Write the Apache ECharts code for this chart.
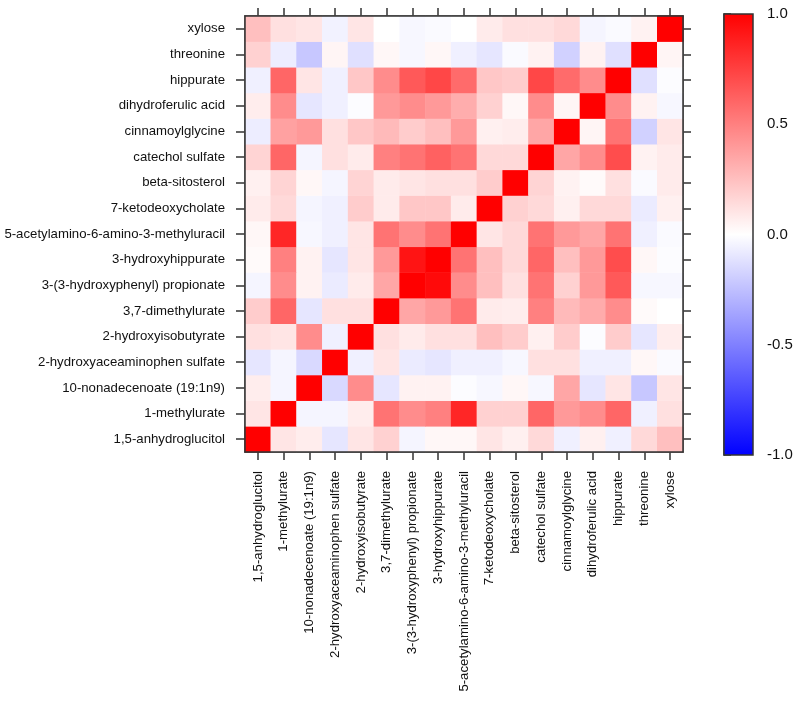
<!DOCTYPE html>
<html>
<head>
<meta charset="utf-8">
<script src="https://cdn.jsdelivr.net/npm/echarts@6/dist/echarts.min.js"></script>
<style>html,body{margin:0;padding:0;background:#fff}#c{width:796px;height:702px}</style>
</head>
<body>
<div id="c"></div>
<script>
// Categories, bottom-to-top on y and left-to-right on x
var categories = [
  "1,5-anhydroglucitol",
  "1-methylurate",
  "10-nonadecenoate (19:1n9)",
  "2-hydroxyaceaminophen sulfate",
  "2-hydroxyisobutyrate",
  "3,7-dimethylurate",
  "3-(3-hydroxyphenyl) propionate",
  "3-hydroxyhippurate",
  "5-acetylamino-6-amino-3-methyluracil",
  "7-ketodeoxycholate",
  "beta-sitosterol",
  "catechol sulfate",
  "cinnamoylglycine",
  "dihydroferulic acid",
  "hippurate",
  "threonine",
  "xylose"
];

// correlation rows (row index = y category, values across x categories)
var r_anhydroglucitol = [1, 0.1, 0.07, -0.1, 0.1, 0.18, -0.04, 0.03, 0.03, 0.1, 0.06, 0.15, -0.06, 0.06, -0.06, 0.15, 0.25];
var r_methylurate     = [0.1, 1, -0.04, -0.04, 0.07, 0.55, 0.45, 0.5, 0.85, 0.18, 0.18, 0.6, 0.4, 0.45, 0.6, -0.06, 0.12];
var r_nonadecenoate   = [0.07, -0.04, 1, -0.15, 0.45, -0.1, 0.05, 0.05, -0.01, -0.03, 0.03, -0.03, 0.35, -0.1, 0.1, -0.22, 0.1];
var r_hyacsulfate     = [-0.1, -0.04, -0.15, 1, -0.06, 0.1, -0.08, -0.1, -0.06, -0.06, -0.03, 0.12, 0.12, -0.06, -0.06, 0.03, -0.02];
var r_hib             = [0.12, 0.1, 0.45, -0.06, 1, 0.12, 0.08, 0.12, 0.12, 0.25, 0.2, 0.06, 0.2, -0.01, 0.2, -0.1, 0.07];
var r_dimethylurate   = [0.2, 0.6, -0.1, 0.12, 0.12, 1, 0.35, 0.4, 0.55, 0.08, 0.07, 0.5, 0.27, 0.33, 0.45, 0.02, 0.0];
var r_hpp             = [-0.04, 0.45, 0.05, -0.08, 0.08, 0.35, 1, 0.96, 0.45, 0.25, 0.12, 0.55, 0.18, 0.4, 0.65, -0.03, -0.03];
var r_hhippurate      = [0.02, 0.5, 0.05, -0.1, 0.1, 0.4, 0.92, 1, 0.55, 0.25, 0.15, 0.6, 0.25, 0.4, 0.7, 0.03, -0.01];
var r_aamu            = [0.03, 0.85, -0.03, -0.06, 0.1, 0.55, 0.45, 0.55, 1, 0.1, 0.15, 0.55, 0.4, 0.35, 0.55, -0.06, -0.02];
var r_ketodeoxy       = [0.08, 0.15, -0.04, -0.06, 0.2, 0.08, 0.22, 0.22, 0.08, 1, 0.18, 0.15, 0.06, 0.15, 0.15, -0.08, 0.06];
var r_sitosterol      = [0.06, 0.17, 0.03, -0.04, 0.17, 0.08, 0.1, 0.12, 0.12, 0.2, 1, 0.17, 0.05, 0.02, 0.12, -0.02, 0.08];
var r_catechol        = [0.17, 0.6, -0.04, 0.12, 0.08, 0.5, 0.55, 0.62, 0.55, 0.15, 0.15, 1, 0.35, 0.45, 0.7, 0.05, 0.08];
var r_cinnamoyl       = [-0.07, 0.37, 0.4, 0.12, 0.22, 0.27, 0.2, 0.25, 0.4, 0.06, 0.07, 0.35, 1, 0.04, 0.55, -0.18, 0.1];
var r_dihydroferulic  = [0.07, 0.45, -0.1, -0.06, -0.01, 0.4, 0.45, 0.4, 0.32, 0.18, 0.03, 0.45, 0.04, 1, 0.45, 0.05, -0.03];
var r_hippurate       = [-0.06, 0.6, 0.1, -0.06, 0.22, 0.45, 0.65, 0.72, 0.58, 0.22, 0.2, 0.72, 0.58, 0.45, 1, -0.12, -0.01];
var r_threonine       = [0.18, -0.07, -0.22, 0.04, -0.12, 0.03, -0.03, 0.03, -0.06, -0.1, -0.02, 0.05, -0.18, 0.05, -0.12, 1, 0.04];
var r_xylose          = [0.25, 0.12, 0.1, -0.05, 0.1, 0.0, -0.03, -0.02, 0.0, 0.08, 0.12, 0.12, 0.15, -0.04, -0.02, 0.05, 1];

var rows = [r_anhydroglucitol, r_methylurate, r_nonadecenoate, r_hyacsulfate, r_hib, r_dimethylurate,
  r_hpp, r_hhippurate, r_aamu, r_ketodeoxy, r_sitosterol, r_catechol, r_cinnamoyl, r_dihydroferulic,
  r_hippurate, r_threonine, r_xylose];

var colorbarTicks = [-1, -0.5, 0, 0.5, 1];

var data = [];
rows.forEach(function (row, y) {
  row.forEach(function (v, x) { data.push([x, y, v]); });
});

var FONT = "'Liberation Sans', Arial, sans-serif";
var AX = '#333';
var LBL = 13.2;

var chart = echarts.init(document.getElementById('c'), null, {renderer: 'canvas'});
chart.setOption({
  animation: false,
  backgroundColor: '#fff',
  grid: [
    {left: 245, top: 16, width: 438, height: 436, show: true, borderColor: AX, borderWidth: 1.5, backgroundColor: 'transparent', z: 5},
    {left: 724, top: 14, width: 29, height: 441, show: false}
  ],
  xAxis: [
    {type: 'category', gridIndex: 0, data: categories, position: 'bottom',
      axisLine: {show: true, lineStyle: {color: AX, width: 1.5}},
      axisTick: {show: true, interval: 0, alignWithLabel: true, length: 8, lineStyle: {color: AX, width: 1.5}},
      axisLabel: {rotate: 90, margin: 19, fontSize: LBL, color: '#111', fontFamily: FONT, interval: 0},
      splitLine: {show: false}},
    {type: 'category', gridIndex: 0, data: categories, position: 'top',
      axisLine: {show: true, lineStyle: {color: AX, width: 1.5}},
      axisTick: {show: true, interval: 0, alignWithLabel: true, length: 8, lineStyle: {color: AX, width: 1.5}},
      axisLabel: {show: false}, splitLine: {show: false}},
    {type: 'value', gridIndex: 1, show: false, min: 0, max: 1}
  ],
  yAxis: [
    {type: 'category', gridIndex: 0, data: categories, position: 'left',
      axisLine: {show: true, lineStyle: {color: AX, width: 1.5}},
      axisTick: {show: true, interval: 0, alignWithLabel: true, length: 9, lineStyle: {color: AX, width: 1.5}},
      axisLabel: {margin: 20, fontSize: LBL, color: '#111', fontFamily: FONT, interval: 0},
      splitLine: {show: false}},
    {type: 'category', gridIndex: 0, data: categories, position: 'right',
      axisLine: {show: true, lineStyle: {color: AX, width: 1.5}},
      axisTick: {show: true, interval: 0, alignWithLabel: true, length: 8, lineStyle: {color: AX, width: 1.5}},
      axisLabel: {show: false}, splitLine: {show: false}},
    {type: 'value', gridIndex: 1, position: 'right', min: colorbarTicks[0], max: colorbarTicks[colorbarTicks.length - 1], interval: 0.5,
      axisLine: {show: true, lineStyle: {color: AX, width: 1.5}},
      axisTick: {show: true, length: 7, lineStyle: {color: AX, width: 1.5}},
      axisLabel: {margin: 14, fontSize: 15, color: '#111', fontFamily: FONT,
        formatter: function (v) { return v.toFixed(1); }},
      splitLine: {show: false}}
  ],
  visualMap: {
    show: false, type: 'continuous', min: -1, max: 1, seriesIndex: 0,
    inRange: {color: ['#0000ff', '#ffffff', '#ff0000']}
  },
  graphic: [{
    type: 'rect', z: 1,
    shape: {x: 724, y: 14, width: 29, height: 441},
    style: {
      fill: new echarts.graphic.LinearGradient(0, 0, 0, 1, [
        {offset: 0, color: '#ff0000'}, {offset: 0.5, color: '#ffffff'}, {offset: 1, color: '#0000ff'}
      ]),
      stroke: AX, lineWidth: 1.5
    }
  }],
  series: [{
    type: 'heatmap', xAxisIndex: 0, yAxisIndex: 0, data: data,
    itemStyle: {borderWidth: 0},
    emphasis: {disabled: true}
  }]
});
</script>
</body>
</html>
